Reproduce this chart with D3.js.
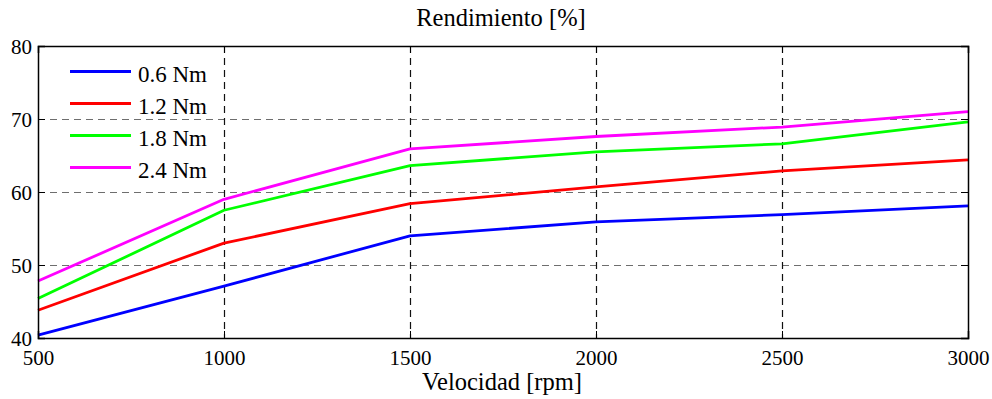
<!DOCTYPE html>
<html>
<head>
<meta charset="utf-8">
<script src="https://cdn.jsdelivr.net/npm/d3@7"></script>
</head>
<body style="margin:0">
<svg id="chart" width="992" height="399"></svg>
<script>
// Speed (rpm) on the x axis
const speeds = [500, 1000, 1500, 2000, 2500, 3000];
// Efficiency (%) per load torque
const eff06 = [40.4, 47.1, 54.0, 55.9, 56.9, 58.1];
const eff12 = [43.8, 53.0, 58.4, 60.7, 62.9, 64.4];
const eff18 = [45.4, 57.5, 63.6, 65.5, 66.6, 69.6];
const eff24 = [47.8, 59.0, 65.9, 67.6, 68.9, 71.0];
const seriesNames = ["0.6 Nm", "1.2 Nm", "1.8 Nm", "2.4 Nm"];
const seriesColors = ["#0000ff", "#ff0000", "#00ff00", "#ff00ff"];
const xTicks = [500, 1000, 1500, 2000, 2500, 3000];
const yTicks = [40, 50, 60, 70, 80];

const FONT = "'Liberation Serif'";
const svg = d3.select("#chart");
const m = { left: 38, right: 968, top: 46, bottom: 338 };

const x = d3.scaleLinear().domain([500, 3000]).range([m.left, m.right]);
const y = d3.scaleLinear().domain([40, 80]).range([m.bottom, m.top]);

// Grid lines (interior only)
svg.append("g").selectAll("line")
  .data(yTicks.filter(v => v > 40 && v < 80))
  .join("line")
  .attr("x1", m.left).attr("x2", m.right)
  .attr("y1", d => y(d) + 0.5).attr("y2", d => y(d) + 0.5)
  .attr("stroke", "#6e6e6e").attr("stroke-width", 1.2)
  .attr("stroke-dasharray", "7,5");

svg.append("g").selectAll("line")
  .data(xTicks.filter(v => v > 500 && v < 3000))
  .join("line")
  .attr("x1", d => Math.round(x(d)) + 0.5).attr("x2", d => Math.round(x(d)) + 0.5)
  .attr("y1", m.top).attr("y2", m.bottom)
  .attr("stroke", "#111").attr("stroke-width", 1.2)
  .attr("stroke-dasharray", "7,5");

// Data lines
const data = [eff06, eff12, eff18, eff24];
const line = d3.line().x((d, i) => x(speeds[i])).y(d => y(d));
svg.append("g").selectAll("path")
  .data(data)
  .join("path")
  .attr("d", d => line(d))
  .attr("fill", "none")
  .attr("stroke", (d, i) => seriesColors[i])
  .attr("stroke-width", 2.8)
  .attr("stroke-linejoin", "round");

// Axes (inward ticks)
const xAxis = d3.axisBottom(x).tickValues(xTicks).tickSize(-7).tickPadding(12).tickFormat(d3.format("d"));
const yAxis = d3.axisLeft(y).tickValues(yTicks).tickSize(-7).tickPadding(6).tickFormat(d3.format("d"));
const xAxisTop = d3.axisTop(x).tickValues(xTicks).tickSize(-7).tickFormat("");
const yAxisRight = d3.axisRight(y).tickValues(yTicks).tickSize(-7).tickFormat("");

const gx = svg.append("g").attr("transform", `translate(0,${m.bottom})`).call(xAxis);
const gy = svg.append("g").attr("transform", `translate(${m.left},0)`).call(yAxis);
svg.append("g").attr("transform", `translate(0,${m.top})`).call(xAxisTop);
svg.append("g").attr("transform", `translate(${m.right},0)`).call(yAxisRight);

svg.selectAll(".domain").attr("stroke", "#000").attr("stroke-width", 1.5);
svg.selectAll(".tick line").attr("stroke", "#000");
gx.attr("font-family", FONT).attr("font-size", 21);
gy.attr("font-family", FONT).attr("font-size", 21);
svg.selectAll(".tick text").attr("fill", "#000");
gx.selectAll(".tick text").attr("dy", "0.71em");
gy.selectAll(".tick text").attr("dy", "0.36em");

// Title and axis label
svg.append("text").attr("x", 501).attr("y", 26).attr("text-anchor", "middle")
  .attr("font-family", FONT).attr("font-size", 24.5).attr("fill", "#000").text("Rendimiento [%]");
svg.append("text").attr("x", 502).attr("y", 390).attr("text-anchor", "middle")
  .attr("font-family", FONT).attr("font-size", 24.5).attr("fill", "#000").text("Velocidad [rpm]");

// Legend
const legend = svg.append("g");
seriesNames.forEach((name, i) => {
  const ly = 71.5 + i * 32;
  legend.append("line").attr("x1", 70).attr("x2", 131).attr("y1", ly).attr("y2", ly)
    .attr("stroke", seriesColors[i]).attr("stroke-width", 2.8);
  legend.append("text").attr("x", 138).attr("y", ly + 10)
    .attr("font-family", FONT).attr("font-size", 23).attr("fill", "#000").text(name);
});
</script>
</body>
</html>
